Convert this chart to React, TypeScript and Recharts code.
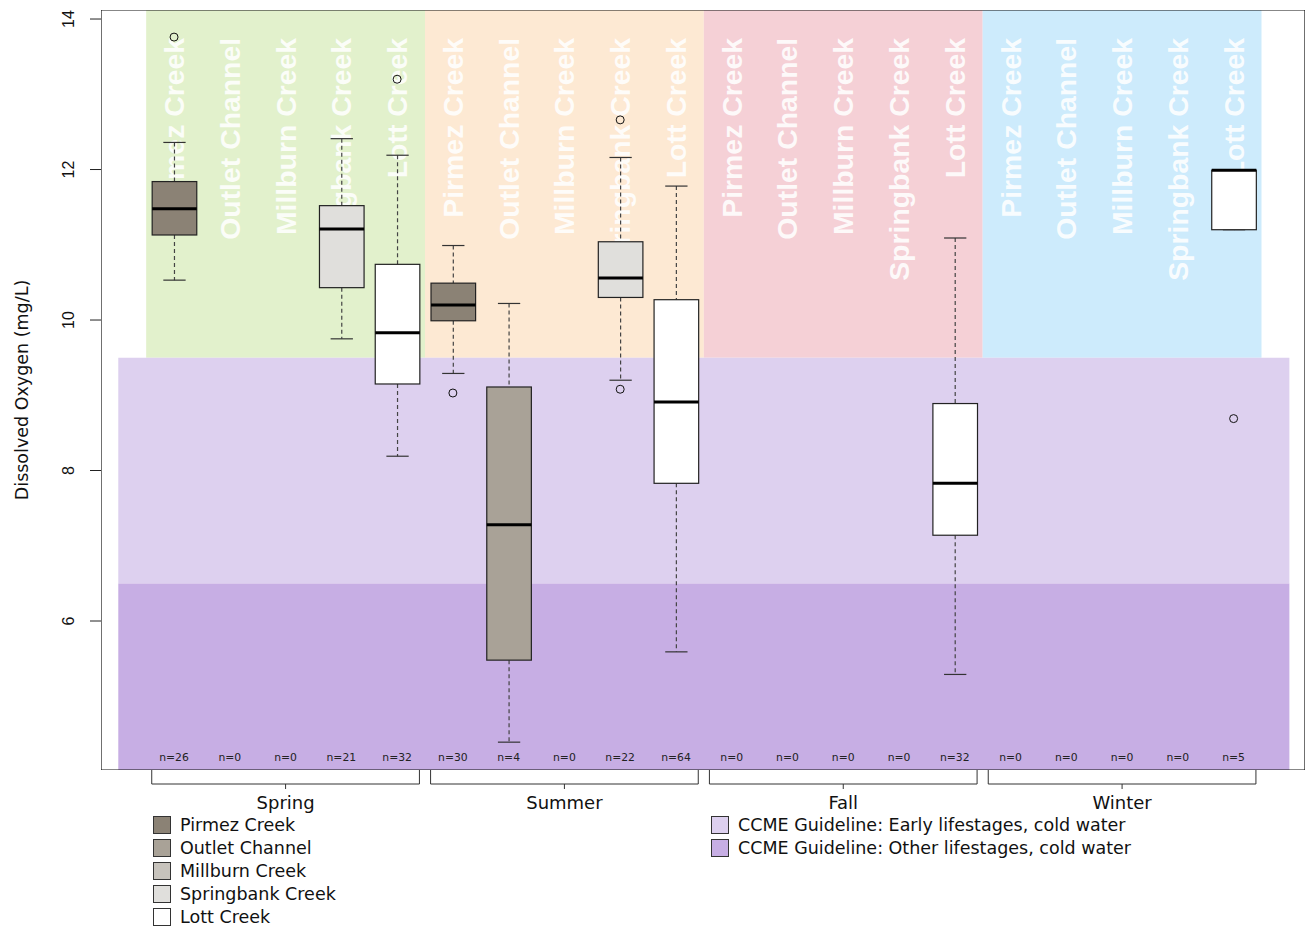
import { Bar, ComposedChart, Label, ReferenceArea, Scatter, XAxis, YAxis } from "recharts";

const SEASONS = ["Spring", "Summer", "Fall", "Winter"];
const CREEKS = ["Pirmez Creek", "Outlet Channel", "Millburn Creek", "Springbank Creek", "Lott Creek"];
const CREEK_FILLS = ["#8b8275", "#a9a297", "#c7c3bc", "#e0dfdc", "#ffffff"];
const SEASON_FILLS = ["#e2f1cc", "#fde9d3", "#f5d0d6", "#cdebfc"];

// one entry per season x creek slot (spring 1-5, summer 6-10, fall 11-15, winter 16-20)
const LOW = [10.53, null, null, 9.75, 8.19, 9.29, 4.39, null, 9.2, 5.59, null, null, null, null, 5.29, null, null, null, null, 11.2];
const Q1 = [11.13, null, null, 10.43, 9.15, 9.99, 5.48, null, 10.3, 7.83, null, null, null, null, 7.14, null, null, null, null, 11.2];
const MEDIAN = [11.48, null, null, 11.21, 9.83, 10.2, 7.28, null, 10.56, 8.91, null, null, null, null, 7.83, null, null, null, null, 11.99];
const Q3 = [11.84, null, null, 11.52, 10.74, 10.49, 9.11, null, 11.04, 10.27, null, null, null, null, 8.89, null, null, null, null, 11.99];
const HIGH = [12.36, null, null, 12.41, 12.19, 10.99, 10.22, null, 12.16, 11.78, null, null, null, null, 11.09, null, null, null, null, 11.99];
const COUNTS = [26, 0, 0, 21, 32, 30, 4, 0, 22, 64, 0, 0, 0, 0, 32, 0, 0, 0, 0, 5];

const OUTLIER_SLOT = [1, 5, 6, 9, 9, 20];
const OUTLIER_VALUE = [13.76, 13.2, 9.03, 12.66, 9.08, 8.69];

const Y_TICKS = [6, 8, 10, 12, 14];
const SEASON_TICKS = [3, 8, 13, 18];

const X_MIN = -0.31;
const X_MAX = 21.28;
const Y_MIN = 4.02;
const Y_MAX = 14.12;

const W = 1308;
const H = 930;
const X_AXIS_H = 30;
const M = { top: 10, right: 3, bottom: 160 - X_AXIS_H, left: 0 };
const Y_AXIS_W = 101;
const SLOT_PX = (W - M.right - Y_AXIS_W) / (X_MAX - X_MIN);

const GOTHIC = "'DejaVu Sans', sans-serif";
const ARIAL = "'Liberation Sans', Arial, sans-serif";

const slots = COUNTS.map((n, i) => ({
	x: i + 1,
	season: SEASONS[Math.floor(i / 5)],
	creek: CREEKS[i % 5],
	fill: CREEK_FILLS[i % 5],
	low: LOW[i],
	q1: Q1[i],
	med: MEDIAN[i],
	q3: Q3[i],
	high: HIGH[i],
	n,
}));

const nameMarks = slots.map((s) => ({ x: s.x, y: 13.75, name: s.creek }));
const countMarks = slots.map((s) => ({ x: s.x, y: 4.19, n: s.n }));
const outliers = OUTLIER_SLOT.map((s, i) => ({ x: s, y: OUTLIER_VALUE[i] }));

function BoxShape(props: any) {
	const { x, y, width, height, payload } = props;
	if (!payload || payload.low == null) return null;
	const span = payload.high - payload.low;
	const py = (v: number) => (span > 0 ? y + ((payload.high - v) / span) * height : y);
	const cx = x + width / 2;
	const cap = width / 4;
	return (
		<g>
			<line x1={cx} x2={cx} y1={py(payload.high)} y2={py(payload.q3)} stroke="#444" strokeDasharray="4 3" strokeWidth={1.2} />
			<line x1={cx} x2={cx} y1={py(payload.q1)} y2={py(payload.low)} stroke="#444" strokeDasharray="4 3" strokeWidth={1.2} />
			<line x1={cx - cap} x2={cx + cap} y1={py(payload.high)} y2={py(payload.high)} stroke="#333" strokeWidth={1.2} />
			<line x1={cx - cap} x2={cx + cap} y1={py(payload.low)} y2={py(payload.low)} stroke="#333" strokeWidth={1.2} />
			<rect
				x={x}
				y={py(payload.q3)}
				width={width}
				height={Math.max(py(payload.q1) - py(payload.q3), 0)}
				fill={payload.fill}
				stroke="#222"
				strokeWidth={1.2}
			/>
			<line x1={x} x2={x + width} y1={py(payload.med)} y2={py(payload.med)} stroke="#000" strokeWidth={3} />
		</g>
	);
}

function CreekName(props: any) {
	const { cx, cy, payload } = props;
	return (
		<text
			x={cx}
			y={cy}
			transform={`rotate(-90 ${cx} ${cy})`}
			textAnchor="end"
			dominantBaseline="central"
			fill="#ffffff"
			fillOpacity={0.88}
			fontFamily={ARIAL}
			fontWeight="bold"
			fontSize={28.4}
		>
			{payload.name}
		</text>
	);
}

function CountLabel(props: any) {
	const { cx, cy, payload } = props;
	return (
		<text x={cx} y={cy} textAnchor="middle" dominantBaseline="central" fill="#222" fontFamily={GOTHIC} fontSize={10.8}>
			{`n=${payload.n}`}
		</text>
	);
}

function Outlier(props: any) {
	const { cx, cy } = props;
	return <circle cx={cx} cy={cy} r={4} fill="none" stroke="#111" />;
}

function SeasonTick(props: any) {
	const { x, y, payload } = props;
	const half = 2.4 * SLOT_PX;
	const idx = SEASON_TICKS.indexOf(payload.value);
	return (
		<g>
			<path d={`M${x - half},${y} V${y + 14} H${x + half} V${y}`} fill="none" stroke="#333" />
			<line x1={x} x2={x} y1={y + 14} y2={y + 19} stroke="#333" />
			<text x={x} y={y + 32} textAnchor="middle" dominantBaseline="central" fontFamily={GOTHIC} fontSize={18} fill="#111">
				{SEASONS[idx]}
			</text>
		</g>
	);
}

function YTick(props: any) {
	const { x, y, payload } = props;
	const tx = x - 19;
	return (
		<text
			x={tx}
			y={y}
			transform={`rotate(-90 ${tx} ${y})`}
			textAnchor="middle"
			dominantBaseline="central"
			fontFamily={ARIAL}
			fontSize={16}
			fill="#111"
		>
			{payload.value}
		</text>
	);
}

function YTitle(props: any) {
	const { viewBox } = props;
	const tx = viewBox.x + 22;
	const ty = viewBox.y + viewBox.height / 2;
	return (
		<text
			x={tx}
			y={ty}
			transform={`rotate(-90 ${tx} ${ty})`}
			textAnchor="middle"
			dominantBaseline="central"
			fontFamily={GOTHIC}
			fontSize={17.5}
			fill="#111"
		>
			Dissolved Oxygen (mg/L)
		</text>
	);
}

const GUIDELINES = [
	{ label: "CCME Guideline: Early lifestages, cold water", fill: "#ddd0ef" },
	{ label: "CCME Guideline: Other lifestages, cold water", fill: "#c7aee4" },
];

function LegendRows({ items, left }: { items: { label: string; fill: string }[]; left: number }) {
	return (
		<div style={{ position: "absolute", left, top: 814 }}>
			{items.map((it) => (
				<div key={it.label} style={{ display: "flex", alignItems: "center", height: 22.8 }}>
					<div
						style={{
							width: 18,
							height: 18,
							background: it.fill,
							border: "1px solid #333",
							boxSizing: "border-box",
							marginRight: 9,
						}}
					/>
					<span style={{ fontFamily: GOTHIC, fontSize: 17.5, color: "#111", whiteSpace: "nowrap" }}>{it.label}</span>
				</div>
			))}
		</div>
	);
}

export default function App() {
	const creekItems = CREEKS.map((c, i) => ({ label: c, fill: CREEK_FILLS[i] }));
	return (
		<div style={{ position: "absolute", left: 0, top: 0, width: W, height: H, background: "#fff" }}>
			<ComposedChart width={W} height={H} data={slots} margin={M}>
				<XAxis
					dataKey="x"
					type="number"
					domain={[X_MIN, X_MAX]}
					allowDataOverflow
					ticks={SEASON_TICKS}
					tick={<SeasonTick />}
					tickSize={0}
					tickMargin={0}
					axisLine={false}
					height={X_AXIS_H}
					interval={0}
				/>
				<YAxis
					type="number"
					domain={[Y_MIN, Y_MAX]}
					allowDataOverflow
					ticks={Y_TICKS}
					tick={<YTick />}
					tickSize={11}
					tickMargin={2}
					tickLine={{ stroke: "#222" }}
					axisLine={false}
					width={Y_AXIS_W}
					interval={0}
				>
					<Label content={<YTitle />} />
				</YAxis>
				{SEASONS.map((s, i) => (
					<ReferenceArea
						key={s}
						x1={i * 5 + 0.5}
						x2={i * 5 + 5.5}
						y1={9.5}
						y2={Y_MAX}
						fill={SEASON_FILLS[i]}
						fillOpacity={1}
						ifOverflow="hidden"
					/>
				))}
				<ReferenceArea x1={0} x2={21} y1={6.5} y2={9.5} fill={GUIDELINES[0].fill} fillOpacity={1} ifOverflow="hidden" />
				<ReferenceArea x1={0} x2={21} y1={Y_MIN} y2={6.5} fill={GUIDELINES[1].fill} fillOpacity={1} ifOverflow="hidden" />
				<Scatter data={nameMarks} dataKey="y" shape={<CreekName />} isAnimationActive={false} zIndex={250} />
				<Bar
					dataKey={(d: any) => (d.low == null ? null : [d.low, d.high])}
					barSize={44.6}
					shape={<BoxShape />}
					isAnimationActive={false}
				/>
				<Scatter data={outliers} dataKey="y" shape={<Outlier />} isAnimationActive={false} />
				<Scatter data={countMarks} dataKey="y" shape={<CountLabel />} isAnimationActive={false} />
				<ReferenceArea
					x1={X_MIN}
					x2={X_MAX}
					y1={Y_MIN}
					y2={Y_MAX}
					fill="none"
					stroke="#111"
					strokeWidth={1.2}
					ifOverflow="hidden"
				/>
			</ComposedChart>
			<LegendRows items={creekItems} left={153} />
			<LegendRows items={GUIDELINES} left={711} />
		</div>
	);
}
